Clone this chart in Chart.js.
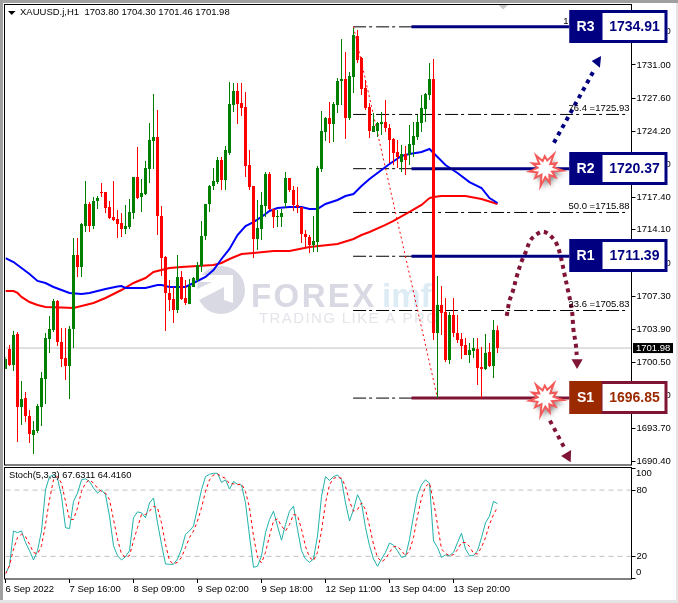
<!DOCTYPE html>
<html><head><meta charset="utf-8">
<script src="https://cdn.jsdelivr.net/npm/chart.js@4"></script>
<style>
html,body{margin:0;padding:0;background:#fff;width:678px;height:603px;overflow:hidden}
canvas{position:absolute;left:0}
.f{position:absolute}
</style></head><body>
<canvas id="main" width="678" height="466" style="top:0"></canvas>
<canvas id="stoch" width="678" height="137" style="top:466px"></canvas>
<div class="f" style="left:0;top:0;width:678px;height:3px;background:#a0a0a0"></div>
<div class="f" style="left:0;top:0;width:3px;height:603px;background:#a0a0a0"></div>
<div class="f" style="left:0;top:600px;width:678px;height:3px;background:#e4e4e4"></div>
<div class="f" style="left:676px;top:3px;width:2px;height:600px;background:#e4e4e4"></div>
<script>
const opens=[1699.84,1701.89,1700.25,1703.42,1695.94,1696.86,1695.02,1693.07,1693.48,1695.94,
1698.81,1702.91,1703.83,1706.81,1702.60,1700.96,1700.14,1703.94,1711.52,1710.29,
1714.49,1716.75,1714.49,1717.06,1717.98,1717.98,1716.44,1715.42,1715.21,1714.80,
1714.19,1714.39,1715.83,1719.52,1717.47,1717.77,1720.34,1723.21,1723.62,1715.52,
1711.32,1707.63,1707.01,1705.88,1709.27,1707.11,1706.50,1708.24,1708.96,1710.39,
1713.47,1716.75,1718.59,1719.00,1721.26,1719.21,1721.98,1726.90,1728.33,1727.10,
1726.69,1720.75,1718.59,1713.16,1714.19,1716.54,1719.82,1716.24,1715.42,1715.42,
1716.85,1719.41,1718.18,1716.65,1716.44,1713.67,1713.37,1712.55,1712.85,1720.34,
1724.13,1725.56,1724.95,1726.90,1729.36,1729.56,1725.56,1729.77,1733.97,1731.71,
1728.64,1726.69,1724.13,1724.23,1724.95,1725.15,1724.54,1723.41,1722.08,1721.05,
1721.87,1721.77,1722.80,1723.62,1725.05,1726.49,1727.92,1729.56,1703.53,1706.40,
1705.68,1700.76,1705.37,1703.53,1702.91,1702.30,1701.27,1701.68,1701.89,1700.04,
1699.84,1701.58,1700.14,1703.80];
const highs=[1701.07,1702.30,1703.73,1703.63,1698.61,1697.48,1695.63,1694.51,1696.25,1699.53,
1703.53,1705.27,1707.01,1706.91,1704.04,1704.04,1704.24,1713.26,1713.26,1714.80,
1719.11,1716.95,1717.47,1717.57,1718.90,1717.98,1717.06,1719.11,1716.13,1715.83,
1716.65,1717.26,1719.52,1722.59,1719.31,1721.16,1725.05,1728.02,1726.38,1716.54,
1711.42,1708.96,1708.24,1711.52,1709.88,1708.96,1709.06,1709.27,1710.80,1715.01,
1716.75,1718.70,1720.44,1721.57,1721.57,1722.69,1729.25,1729.15,1729.15,1729.15,
1728.23,1722.28,1718.59,1717.16,1717.98,1720.03,1720.03,1716.24,1716.13,1716.24,
1720.03,1719.41,1718.59,1718.49,1716.44,1714.08,1713.57,1715.52,1720.64,1726.28,
1725.67,1727.20,1727.20,1729.66,1733.66,1732.33,1730.28,1734.79,1734.58,1731.82,
1729.46,1727.10,1726.08,1725.15,1726.18,1727.41,1724.95,1723.51,1723.31,1722.80,
1722.69,1724.85,1725.15,1725.87,1727.92,1728.13,1731.20,1731.61,1709.37,1708.34,
1707.11,1705.68,1707.11,1705.37,1703.53,1703.01,1702.50,1703.01,1703.01,1702.09,
1703.42,1702.50,1704.86,1704.30];
const lows=[1699.84,1700.14,1699.63,1692.35,1694.10,1694.40,1692.25,1691.12,1693.28,1693.99,
1696.25,1701.48,1703.63,1702.19,1700.04,1698.71,1696.76,1701.99,1709.27,1709.27,
1713.88,1713.88,1714.19,1716.24,1717.47,1715.83,1715.21,1715.01,1713.26,1713.37,
1713.67,1714.19,1715.21,1717.26,1715.93,1717.67,1718.90,1720.34,1713.57,1709.37,
1703.73,1705.78,1704.55,1705.58,1706.91,1706.40,1706.50,1708.24,1708.75,1709.78,
1713.06,1715.93,1718.18,1718.80,1718.18,1718.18,1721.77,1726.18,1724.95,1725.77,
1719.52,1718.18,1711.21,1712.03,1713.06,1715.42,1716.13,1714.29,1714.39,1714.39,
1716.34,1717.98,1716.03,1715.83,1712.75,1712.34,1711.73,1711.83,1711.83,1720.03,
1723.21,1723.00,1723.10,1726.08,1726.90,1723.41,1725.36,1728.13,1731.20,1727.92,
1726.38,1723.51,1724.13,1723.62,1723.82,1724.13,1720.95,1720.75,1720.44,1720.03,
1719.72,1720.75,1721.57,1723.31,1724.13,1725.15,1727.41,1702.81,1696.85,1703.32,
1700.55,1700.35,1703.12,1702.50,1700.86,1701.27,1700.45,1700.96,1698.20,1696.85,
1699.73,1700.04,1698.91,1701.46];
const closes=[1700.86,1700.25,1703.32,1695.94,1696.76,1695.02,1693.17,1693.58,1696.04,1698.91,
1703.01,1703.94,1706.81,1702.60,1700.86,1700.14,1703.94,1711.52,1710.29,1714.70,
1716.75,1714.49,1717.06,1717.36,1717.88,1716.34,1715.31,1715.11,1714.70,1714.19,
1714.49,1715.93,1719.52,1717.36,1717.88,1720.44,1723.31,1723.62,1715.52,1711.21,
1707.63,1706.91,1705.88,1709.27,1707.01,1706.60,1708.34,1709.16,1710.50,1713.47,
1716.75,1718.59,1719.11,1721.26,1719.21,1722.28,1727.00,1728.33,1727.00,1726.59,
1720.64,1718.49,1713.16,1714.29,1716.65,1719.82,1716.24,1715.42,1715.52,1715.83,
1719.41,1718.18,1716.65,1716.44,1713.67,1713.37,1712.55,1712.96,1720.44,1724.23,
1725.56,1724.95,1727.00,1729.36,1729.56,1725.56,1729.87,1734.07,1731.51,1728.54,
1726.59,1724.23,1724.74,1725.05,1725.15,1724.54,1723.31,1721.98,1721.57,1721.87,
1721.26,1722.90,1723.72,1725.15,1726.59,1728.02,1729.56,1703.53,1706.40,1705.58,
1700.76,1705.37,1703.53,1702.81,1702.19,1701.27,1701.78,1701.99,1699.94,1699.84,
1701.48,1700.14,1703.83,1701.98];

const blueBars=[0,2,4,6,8,10,12,14,16,19,21,23,25,28,29,30,35,38,39,41,45,47,50,52,54,56,58,60,62,64,66,68,71,74,76,78,80,83,85,87,89,91,94,96,99,101,104,106,107,110,113,116,119,121,123];
const blueMA=[1711.21,1710.80,1710.19,1709.57,1708.86,1708.65,1708.24,1707.93,1707.63,1707.52,1707.63,1707.83,1708.04,1708.29,1708.34,1708.14,1708.14,1708.45,1708.45,1708.24,1708.24,1708.65,1709.27,1709.98,1711.11,1712.14,1713.57,1714.49,1714.90,1715.42,1716.03,1716.34,1716.44,1716.44,1716.24,1716.24,1716.75,1717.16,1717.57,1717.77,1718.59,1719.31,1720.23,1720.85,1721.67,1721.87,1722.08,1722.39,1721.98,1720.75,1719.93,1719.00,1718.39,1717.36,1716.85];
const redBars=[0,2,3,4,6,8,10,14,17,19,22,25,29,32,35,37,41,44,48,52,54,56,59,62,67,71,76,83,87,89,91,95,97,101,104,106,107,109,115,119,123];
const redMA=[1707.83,1707.83,1707.63,1707.22,1706.70,1706.40,1706.19,1706.14,1706.09,1706.29,1706.60,1707.11,1707.93,1708.65,1709.16,1709.78,1710.19,1710.29,1710.39,1710.50,1710.70,1711.11,1711.62,1711.73,1711.93,1711.93,1712.34,1712.65,1713.16,1713.57,1713.88,1714.60,1715.01,1715.93,1716.65,1717.36,1717.47,1717.57,1717.57,1717.26,1716.75];

const stochK=[4.2,11.6,43.0,41.5,43.0,32.5,25.1,16.7,25.1,43.0,80.3,92.2,93.7,90.7,74.3,46.0,45.1,69.8,77.3,89.3,90.2,87.8,81.8,77.3,80.3,75.8,56.4,29.6,20.6,16.7,19.7,25.1,54.9,60.3,59.4,54.9,68.4,72.8,50.4,31.0,13.1,12.8,12.8,17.6,26.6,40.0,43.0,47.5,63.9,80.3,92.2,94.3,95.2,95.2,86.9,89.3,80.9,87.8,85.4,84.5,68.4,38.5,10.1,11.0,20.6,41.5,53.4,60.9,47.5,34.6,48.9,60.9,65.4,44.5,25.1,17.6,14.6,17.6,38.5,74.3,92.2,88.7,92.2,93.7,89.3,68.4,52.0,62.4,75.8,68.4,46.0,29.6,17.6,11.0,17.6,23.6,32.0,30.2,25.1,19.1,20.0,35.5,56.4,75.8,84.8,89.3,86.3,34.0,28.0,19.1,21.2,20.6,23.6,32.5,40.9,26.6,20.6,20.6,25.1,37.0,50.4,56.4,69.8,67.63];
const stochD=[4.2,11.6,26.6,37.0,40.0,37.9,31.0,23.6,22.1,29.6,48.9,71.3,89.3,92.2,86.3,69.8,53.4,53.4,63.9,78.8,86.3,89.3,86.3,81.8,78.8,77.3,71.3,53.4,35.5,22.1,19.1,20.6,34.0,46.0,57.9,57.9,60.9,65.4,63.9,50.4,31.0,16.1,13.1,14.6,19.1,28.1,37.0,43.0,52.0,63.9,78.8,89.3,93.7,94.6,92.2,90.7,85.7,85.7,84.8,85.7,78.8,63.9,38.5,19.1,14.0,23.6,38.5,52.0,54.0,47.5,43.0,48.9,57.9,57.0,44.5,29.0,19.1,16.1,23.6,43.0,68.4,84.8,90.7,91.6,90.7,83.3,69.8,60.9,62.4,68.4,62.4,47.5,31.0,19.1,15.2,17.6,23.6,28.7,29.0,25.1,20.6,25.1,37.0,56.4,72.8,83.3,86.3,69.8,48.9,26.6,22.7,20.6,21.5,26.0,32.5,32.5,29.0,22.7,22.1,28.1,37.0,48.9,57.9,64.416];

const timeLabels=["6 Sep 2022","7 Sep 16:00","8 Sep 09:00","9 Sep 02:00","9 Sep 18:00","12 Sep 11:00","13 Sep 04:00","13 Sep 20:00"];
const barsPerLabel=16;
const priceTicks=[1690.40,1693.70,1697.10,1700.50,1703.90,1707.30,1710.70,1714.10,1717.40,1720.80,1724.20,1727.60,1731.00,1734.40];
const stochTicks=[0,20,80,100];
const lastPrice=1701.98;

const fibPct=["100.0","76.4","61.8","50.0","38.2","23.6","0.0"];
const fibPrice=[1734.91,1725.93,1720.37,1715.88,1711.39,1705.83,1696.85];
const levelNames=["R3","R2","R1","S1"];
const levelPrice=[1734.91,1720.37,1711.39,1696.85];
const burstPrice=[1720.37,1696.85];
const burstBar=134.9;

const arcBars=[125.3,126,126.8,127.8,129,130.1,131.3,133.2,134.6,136.3,137.8,138.9,139.7,140.6,141.6,142,142.6,142.8];
const arcPrice=[1705.27,1706.83,1707.76,1709.30,1710.84,1711.86,1713.06,1713.75,1713.91,1713.47,1712.65,1711.18,1709.65,1707.93,1705.88,1703.83,1702.30,1701.27];
const upBars=[137.1,146.95], upPrice=[1723.03,1730.31];
const downBars=[136.1,140.0], downPrice=[1694.54,1691.53];
const heads=[
 {c:"#7f1434",b:[141.5,144.3,142.9],p:[1700.83,1700.83,1699.84]},
 {c:"#000080",b:[146.55,148.9,148.6],p:[1731.41,1731.92,1730.72]},
 {c:"#7f1434",b:[141.4,138.9,141.3],p:[1691.53,1690.92,1690.27]}
];

const NAVY="#000080", MAROON="#7f1434", GREEN="#008000", RED="#ff0000";
const LAST_X=156.5;
const idx=opens.map((_,i)=>i);
const pairs=(xs,ys)=>xs.map((x,i)=>({x,y:ys[i]}));
const candleCol=idx.map(i=>closes[i]>=opens[i]?GREEN:RED);
const FONT="'Liberation Sans'";
const AXFONT={family:"Liberation Sans",size:9.5};

const lineDs=(data,color,width,order,extra)=>Object.assign({type:"line",data,borderColor:color,backgroundColor:color,borderWidth:width,pointRadius:0,order,tension:0,fill:false},extra||{});

const priceDatasets=[
 {type:"bar",data:idx.map(i=>({x:i,y:[opens[i],closes[i]]})),backgroundColor:candleCol,maxBarThickness:3,barPercentage:1,categoryPercentage:1,grouped:false,inflateAmount:0,minBarLength:1,order:0},
 {type:"bar",data:idx.map(i=>({x:i,y:[lows[i],highs[i]]})),backgroundColor:candleCol,maxBarThickness:1,barPercentage:1,categoryPercentage:1,grouped:false,inflateAmount:0,order:1},
 lineDs(pairs(blueBars,blueMA),"#0000ff",2,3),
 lineDs(pairs(redBars,redMA),"#ff0000",2,4),
 lineDs(pairs([87,108],[1734.91,1696.85]),"#ff0000",1,5,{borderDash:[2,3]}),
 lineDs(pairs([0,LAST_X],[lastPrice,lastPrice]),"#c0c0c0",1,9)
];
fibPrice.forEach(p=>priceDatasets.push(lineDs(pairs([86.9,155.5],[p,p]),"#000000",1,6,{borderDash:[13,3,3,4]})));
levelPrice.forEach((p,i)=>priceDatasets.push(lineDs(pairs([101.5,141],[p,p]),levelNames[i]==="S1"?MAROON:NAVY,3,2)));
priceDatasets.push(lineDs(pairs(arcBars,arcPrice),MAROON,4,2,{borderDash:[4,4],tension:0.35}));
priceDatasets.push(lineDs(pairs(upBars,upPrice),NAVY,4,2,{borderDash:[4,4.5]}));
priceDatasets.push(lineDs(pairs(downBars,downPrice),MAROON,4,2,{borderDash:[4,4.5]}));

function frame(ctx,a){ctx.save();ctx.strokeStyle="#000";ctx.lineWidth=1;
 ctx.strokeRect(4.5,Math.floor(a.top)-0.5,627,Math.round(a.bottom-a.top)+0.5);ctx.restore();}

const watermark={id:"wm",beforeDatasetsDraw(c){const x=c.ctx;x.save();
 x.fillStyle="#d9d9e3";x.beginPath();x.arc(221,290,24,0,Math.PI*2);x.fill();
 x.fillStyle="#fff";x.beginPath();x.moveTo(196,275);x.lineTo(233,275);x.lineTo(233,303);x.lineTo(224,300);x.lineTo(224,287);x.lineTo(199,300);x.lineTo(193,291);x.lineTo(212,282);x.lineTo(196,282);x.closePath();x.fill();
 x.textBaseline="alphabetic";x.textAlign="left";
 x.letterSpacing="2.4px";x.font="bold 33px "+FONT;x.fillStyle="#d9d9e3";x.fillText("FOREX",251,307);
 x.letterSpacing="0px";x.font="bold 33px "+FONT;x.fillStyle="#dcebf4";x.fillText("imf",382,307);
 x.letterSpacing="1.4px";x.font="15px "+FONT;x.fillStyle="#e4e4ea";x.fillText("TRADING LIKE A PRO",259,323);
 x.letterSpacing="0px";x.restore();}};

function burst(x,cx,cy){const outer=[16,12.5,17,12.5,18,13.5,15,18,13.5,16,14],inner=[8,8.5,7,8.5,7.5,7.5,8.5,7,8.5,7.5,7.5];
 x.save();x.beginPath();const n=outer.length;
 for(let i=0;i<n;i++){const a=-Math.PI/2+i*2*Math.PI/n-0.6,b=a+Math.PI/n;
  x.lineTo(cx+outer[i]*Math.cos(a),cy+outer[i]*Math.sin(a));
  x.lineTo(cx+inner[i]*Math.cos(b),cy+inner[i]*Math.sin(b));}
 x.closePath();x.shadowColor="rgba(0,0,0,.45)";x.shadowOffsetX=2;x.shadowOffsetY=4;x.shadowBlur=4;
 x.fillStyle="#fff";x.fill();x.shadowColor="transparent";
 x.lineWidth=2;x.strokeStyle="#f45a5a";x.stroke();x.restore();}

function box(x,name,price,yc,sup){const L=569.5,T=Math.round(yc-17),W=98,H=33,dark=sup?"#9c2a00":NAVY,edge=sup?MAROON:NAVY;
 x.save();
 x.fillStyle="#fff";x.fillRect(L,T,W,H);
 x.fillStyle=edge;x.fillRect(L,T,W,H);
 x.fillStyle=dark;x.fillRect(L,T,32,H);
 x.fillStyle="#fff";x.fillRect(L+33,T+3,W-36,H-6);
 x.textBaseline="middle";x.textAlign="center";x.font="bold 14px "+FONT;
 x.fillStyle="#fff";x.fillText(name,L+16,T+H/2+0.5);
 x.fillStyle=sup?"#9c2a00":NAVY;x.fillText(price.toFixed(2),L+65,T+H/2+0.5);
 x.restore();}

const overlay={id:"overlay",afterDatasetsDraw(c){const x=c.ctx,sy=c.scales.y,sx=c.scales.x,a=c.chartArea;
 x.save();
 frame(x,a);
 x.fillStyle="#000";x.beginPath();x.moveTo(8,11);x.lineTo(15.5,11);x.lineTo(11.75,15);x.closePath();x.fill();
 x.font="9.5px "+FONT;x.textBaseline="middle";x.textAlign="left";x.fillStyle="#000";
 x.fillText("XAUUSD.j,H1  1703.80 1704.30 1701.46 1701.98",20,12.5);
 x.fillStyle="#c8c8c8";x.beginPath();x.moveTo(498.5,5);x.lineTo(508,5);x.lineTo(503.2,9.5);x.closePath();x.fill();
 x.font="9.5px "+FONT;x.textAlign="right";x.textBaseline="alphabetic";x.fillStyle="#000";
 fibPrice.forEach((p,i)=>x.fillText(fibPct[i]+" ="+p.toFixed(2),629.5,sy.getPixelForValue(p)-3));
 heads.forEach(h=>{x.fillStyle=h.c;x.beginPath();h.b.forEach((b,i)=>x.lineTo(sx.getPixelForValue(b),sy.getPixelForValue(h.p[i])));x.closePath();x.fill();});
 burstPrice.forEach(p=>burst(x,sx.getPixelForValue(burstBar),sy.getPixelForValue(p)));
 const ly=sy.getPixelForValue(lastPrice);
 x.fillStyle="#000";x.fillRect(633,ly-5,40,10);
 x.fillStyle="#fff";x.font="9.5px "+FONT;x.textAlign="left";x.textBaseline="middle";x.fillText(lastPrice.toFixed(2),636,ly+0.5);
 levelPrice.forEach((p,i)=>box(x,levelNames[i],p,sy.getPixelForValue(p),levelNames[i]==="S1"));
 x.restore();}};

const yAxisFit=s=>{s.width=46.5;s.paddingTop=0;s.paddingBottom=0;};
new Chart(document.getElementById("main"),{
 data:{datasets:priceDatasets},
 options:{responsive:false,animation:false,layout:{autoPadding:false,padding:{left:5.5,top:5,right:0,bottom:1}},
  plugins:{legend:{display:false},tooltip:{enabled:false}},
  scales:{
   x:{type:"linear",display:false,offset:false,min:0,max:LAST_X},
   y:{position:"right",min:1689.99,max:1737.15,afterFit:yAxisFit,
      afterBuildTicks:s=>{s.ticks=priceTicks.map(value=>({value}));},
      grid:{drawOnChartArea:false,tickLength:4,color:"#000",drawTicks:true},border:{display:false},
      ticks:{autoSkip:false,padding:1,color:"#000",font:AXFONT,callback:v=>Number(v).toFixed(2)}}
  }},
 plugins:[watermark,overlay]});

const stochOverlay={id:"stochOverlay",afterDatasetsDraw(c){const x=c.ctx,a=c.chartArea,sy=c.scales.y;
 x.save();frame(x,a);
 x.font="9.3px "+FONT;x.textBaseline="middle";x.textAlign="left";x.fillStyle="#000";
 x.fillText("Stoch(5,3,3) 67.6311 64.4160",9,9.5);
 x.font="9.5px "+FONT;
 x.fillText("100",636,sy.getPixelForValue(100)+5.5);
 x.fillText("0",636,sy.getPixelForValue(0)-6.5);
 x.restore();}};

new Chart(document.getElementById("stoch"),{
 data:{datasets:[
  lineDs(pairs(idx,stochK),"#20b2aa",1,1),
  lineDs(pairs(idx,stochD),"#ff0000",1,0,{borderDash:[3,3]}),
  lineDs(pairs([0,LAST_X],[80,80]),"#c0c0c0",1,5,{borderDash:[5,4]}),
  lineDs(pairs([0,LAST_X],[20,20]),"#c0c0c0",1,5,{borderDash:[5,4]})
 ]},
 options:{responsive:false,animation:false,layout:{autoPadding:false,padding:{left:5.5,top:2,right:0,bottom:0}},
  plugins:{legend:{display:false},tooltip:{enabled:false}},
  scales:{
   x:{type:"linear",offset:false,min:0,max:LAST_X,afterFit:s=>{s.height=24;s.paddingLeft=0;s.paddingRight=0;},
      afterBuildTicks:s=>{s.ticks=timeLabels.map((_,i)=>({value:i*barsPerLabel}));},
      grid:{drawOnChartArea:false,tickLength:4,color:"#000"},border:{display:false},
      ticks:{autoSkip:false,maxRotation:0,minRotation:0,align:"start",padding:1,color:"#000",font:AXFONT,callback:v=>timeLabels[v/barsPerLabel]||""}},
   y:{position:"right",min:-0.5,max:100,afterFit:yAxisFit,
      afterBuildTicks:s=>{s.ticks=stochTicks.map(value=>({value}));},
      grid:{drawOnChartArea:false,tickLength:4,color:"#000"},border:{display:false},
      ticks:{autoSkip:false,padding:1,color:"#000",font:AXFONT,callback:v=>(v===20||v===80)?String(v):""}}
  }},
 plugins:[stochOverlay]});
</script>
</body></html>
